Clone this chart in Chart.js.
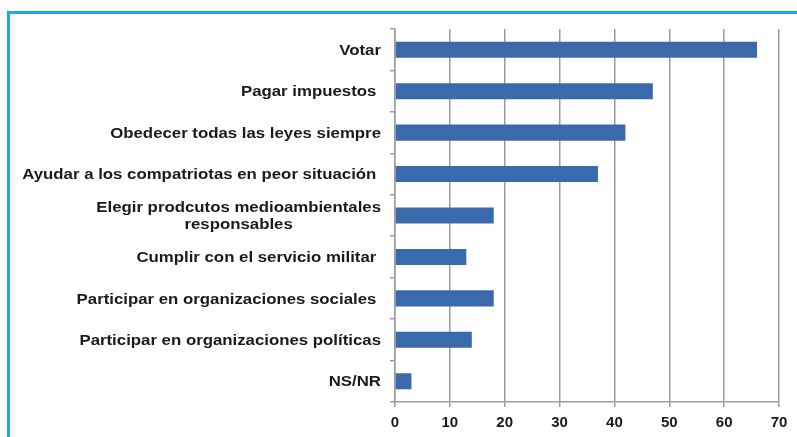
<!DOCTYPE html>
<html>
<head>
<meta charset="utf-8">
<script src="https://cdn.jsdelivr.net/npm/chart.js@4.4.0/dist/chart.umd.min.js"></script>
<style>
    body { margin: 0; background: #fff; }
    #wrap { position: relative; width: 797px; height: 437px; overflow: hidden; }
    #frame { position: absolute; left: 7px; top: 11px; width: 900px; height: 500px;
             border-left: 3px solid #19aae8; border-top: 3px solid #19aae8; }
    canvas { position: absolute; left: 0; top: 0; }
</style>
</head>
<body>
<div id="wrap">
    <div id="frame"></div>
    <canvas id="chart" width="797" height="437"></canvas>
</div>
<script>
const categorias = [
    'Votar',
    'Pagar impuestos ',
    'Obedecer todas las leyes siempre',
    'Ayudar a los compatriotas en peor situación ',
    ['Elegir prodcutos medioambientales', 'responsables'],
    'Cumplir con el servicio militar ',
    'Participar en organizaciones sociales ',
    'Participar en organizaciones políticas',
    'NS/NR'
];
const valores = [66, 47, 42, 37, 18, 13, 18, 14, 3];
const ticksX = [0, 10, 20, 30, 40, 50, 60, 70];

const fuente = '"Liberation Sans", Arial, sans-serif';

// etiquetas del eje vertical: letra algo ensanchada, cada una centrada sobre sí misma
// y pegada a la derecha
const etiquetasPlugin = {
    id: 'etiquetas',
    afterDraw(chart) {
        const ctx = chart.ctx;
        const y = chart.scales.y;
        const derecha = y.right - 14;
        const ensanche = 1.12;
        ctx.save();
        ctx.font = 'bold 15px ' + fuente;
        ctx.fillStyle = '#1a1a1a';
        ctx.textBaseline = 'middle';
        ctx.textAlign = 'center';
        ctx.translate(derecha, 0);
        ctx.scale(ensanche, 1);
        categorias.forEach((cat, i) => {
            const lineas = Array.isArray(cat) ? cat : [cat];
            const ancho = Math.max(...lineas.map(l => ctx.measureText(l).width));
            const yc = y.getPixelForValue(i) + 1;
            const alto = 17;
            lineas.forEach((l, j) => {
                ctx.fillText(l, -ancho / 2, yc + (j - (lineas.length - 1) / 2) * alto);
            });
        });
        ctx.restore();
    }
};

new Chart(document.getElementById('chart').getContext('2d'), {
    type: 'bar',
    data: {
        labels: categorias,
        datasets: [{
            data: valores,
            backgroundColor: '#3a6aab',
            borderWidth: 0,
            categoryPercentage: 0.43,
            barPercentage: 0.9
        }]
    },
    options: {
        indexAxis: 'y',
        responsive: false,
        animation: false,
        layout: { padding: { left: 0, top: 29, right: 18, bottom: 0 } },
        plugins: { legend: { display: false }, tooltip: { enabled: false } },
        scales: {
            x: {
                min: 0,
                max: 70,
                afterBuildTicks: (scale) => { scale.ticks = ticksX.map(v => ({ value: v })); },
                afterFit: (scale) => { scale.height = 35; },
                grid: { color: '#9c9c9c', lineWidth: 1.5, tickLength: 5 },
                border: { color: '#9c9c9c', width: 1.5 },
                ticks: {
                    color: '#1a1a1a',
                    padding: 7,
                    font: { family: fuente, size: 15, weight: 'bold' }
                }
            },
            y: {
                afterFit: (scale) => { scale.width = 395; },
                grid: { drawOnChartArea: false, tickLength: 5, color: '#9c9c9c', lineWidth: 1.5, offset: true },
                border: { color: '#9c9c9c', width: 1.5 },
                ticks: { display: false }
            }
        }
    },
    plugins: [etiquetasPlugin]
});
</script>
</body>
</html>
